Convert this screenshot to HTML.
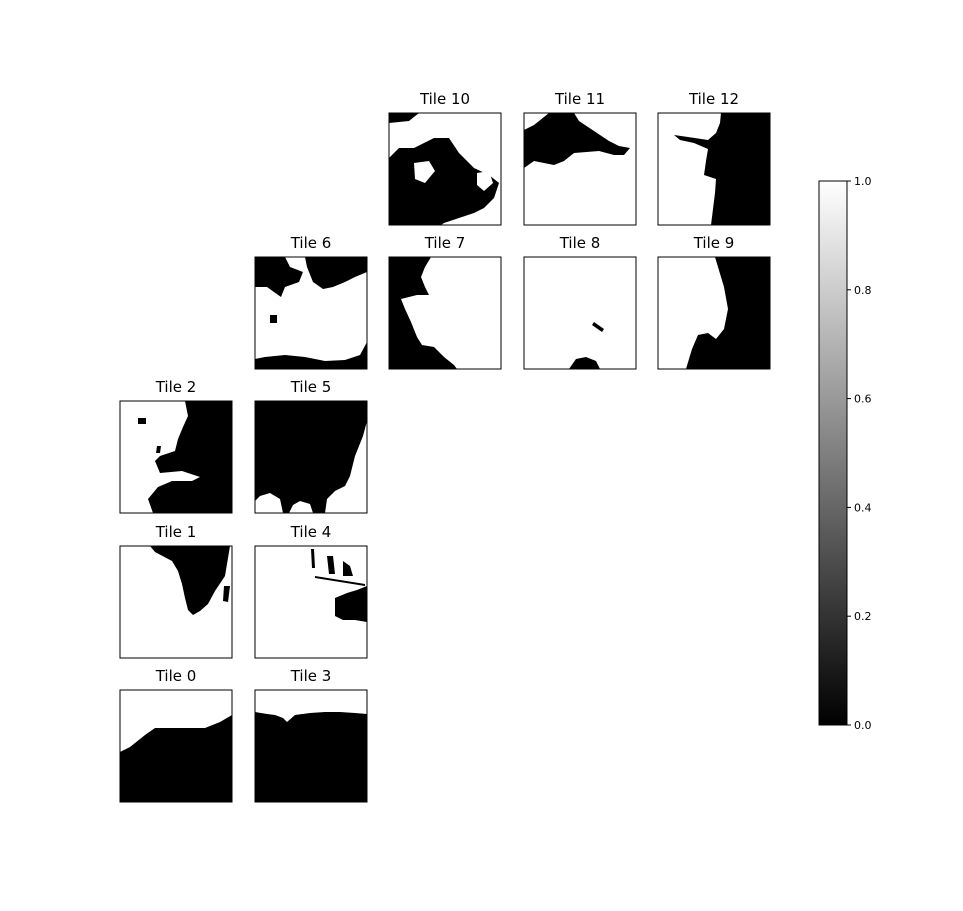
<!DOCTYPE html>
<html><head><meta charset="utf-8"><style>
body{margin:0;background:#fff;}
svg text{font-family:"DejaVu Sans","Liberation Sans",sans-serif;}
</style></head><body>
<svg width="963" height="906" viewBox="0 0 963 906">
<defs>
<linearGradient id="cb" x1="0" y1="1" x2="0" y2="0"><stop offset="0" stop-color="#000"/><stop offset="1" stop-color="#fff"/></linearGradient>
</defs>
<g id="tiles"></g>
<g>
<rect x="819" y="181" width="28" height="544" fill="url(#cb)" stroke="#000" stroke-width="1"/>
<g id="cbticks"></g>
</g>
</svg>
<script>
const tickLabels=["0.0","0.2","0.4","0.6","0.8","1.0"];
const tickValues=[0,0.2,0.4,0.6,0.8,1.0];
const NS="http://www.w3.org/2000/svg";
const cbY=v=>725-v*544;
const tg=document.getElementById('cbticks');
tickValues.forEach((v,i)=>{
 const l=document.createElementNS(NS,'line');
 l.setAttribute('x1',847);l.setAttribute('x2',851);l.setAttribute('y1',cbY(v));l.setAttribute('y2',cbY(v));l.setAttribute('stroke','#000');
 
 
 tg.appendChild(l);
 const t=document.createElementNS(NS,'text');
 t.setAttribute('x',854);t.setAttribute('y',cbY(v)+4);t.setAttribute('font-size','11');t.textContent=tickLabels[i];
 
 
 tg.appendChild(t);
});
const tiles=[
 {n:0,x:120,y:690,p:["0,112 0,62 10,57 25,45 35,38 85,38 100,32 112,25 112,112"]},
 {n:1,x:120,y:546,p:["30,0 110,0 105,30 95,45 88,58 80,65 73,69 68,64 65,52 62,38 58,25 52,15 35,6","104,40 110,40 108,56 103,55"]},
 {n:2,x:120,y:401,p:["65,0 112,0 112,112 33,112 28,98 38,86 52,80 72,80 80,76 62,70 40,72 35,60 40,55 55,50 58,38 63,26 68,15","18,17 26,17 26,23 18,23","37,45 41,45 40,52 36,52"]},
 {n:3,x:255,y:690,p:["0,22 12,24 20,25 28,28 32,32 40,25 55,23 70,22 85,22 100,23 112,24 112,112 0,112"]},
 {n:4,x:255,y:546,p:["80,52 92,47 102,44 112,40 112,76 100,74 88,74 80,70","56,3 59,3 60,22 57,22","72,10 78,10 80,28 74,28","88,15 95,20 98,30 88,30","60,30 110,38 110,40 60,32"]},
 {n:5,x:255,y:401,p:["0,0 112,0 112,20 108,35 100,55 95,75 90,85 80,90 72,98 70,112 58,112 55,103 45,100 38,104 34,112 28,112 25,98 15,92 5,95 0,100"]},
 {n:6,x:255,y:257,p:["0,0 30,0 35,10 48,15 44,25 30,30 26,40 12,30 0,30","50,0 112,0 112,15 100,20 90,25 78,30 68,32 58,25 52,10","0,112 112,112 112,85 105,98 90,103 70,104 50,100 30,98 10,100 0,102","15,58 22,58 22,66 15,66"]},
 {n:7,x:389,y:257,p:["0,0 42,0 36,10 32,20 36,30 40,38 28,38 12,42 16,52 22,65 28,80 33,88 45,90 55,100 65,108 68,112 0,112"]},
 {n:8,x:524,y:257,p:["45,112 52,102 62,100 72,104 76,112","70,65 80,72 78,75 68,68"]},
 {n:9,x:658,y:257,p:["57,0 112,0 112,112 28,112 34,92 40,78 50,76 58,82 66,72 70,52 66,30 60,10"]},
 {n:10,x:389,y:113,p:["0,0 30,0 20,8 0,10","0,45 10,35 25,35 45,25 60,25 70,40 85,55 100,62 110,70 105,85 95,95 85,100 70,105 55,110 52,112 0,112"],w:["25,50 40,48 46,58 36,70 26,66","88,60 100,58 104,70 95,78 88,72"]},
 {n:11,x:524,y:113,p:["0,17 10,12 25,0 50,0 55,8 70,18 85,28 95,33 106,35 100,42 90,42 75,38 50,40 40,48 30,52 10,48 0,55"]},
 {n:12,x:658,y:113,p:["63,0 112,0 112,112 53,112 57,80 58,66 46,62 48,48 50,36 36,30 22,27 16,22 30,24 50,27 58,20 62,10"]}
];
const g=document.getElementById('tiles');
tiles.forEach(t=>{
 const grp=document.createElementNS(NS,'g');
 grp.setAttribute('transform',`translate(${t.x},${t.y})`);
 
 
 const r=document.createElementNS(NS,'rect');
 r.setAttribute('width',112);r.setAttribute('height',112);r.setAttribute('fill','#fff');
 grp.appendChild(r);
 t.p.forEach(pts=>{const p=document.createElementNS(NS,'polygon');p.setAttribute('points',pts);p.setAttribute('fill','#000');
  
  
  grp.appendChild(p);});
 (t.w||[]).forEach(pts=>{const p=document.createElementNS(NS,'polygon');p.setAttribute('points',pts);p.setAttribute('fill','#fff');grp.appendChild(p);});
 const b=document.createElementNS(NS,'rect');
 b.setAttribute('width',112);b.setAttribute('height',112);b.setAttribute('fill','none');b.setAttribute('stroke','#000');b.setAttribute('stroke-width','1');
 grp.appendChild(b);
 const tt=document.createElementNS(NS,'text');
 tt.setAttribute('x',56);tt.setAttribute('y',-9);tt.setAttribute('text-anchor','middle');tt.setAttribute('font-size','15');
 tt.textContent='Tile '+t.n;
 
 
 grp.appendChild(tt);
 g.appendChild(grp);
});
</script>
</body></html>
